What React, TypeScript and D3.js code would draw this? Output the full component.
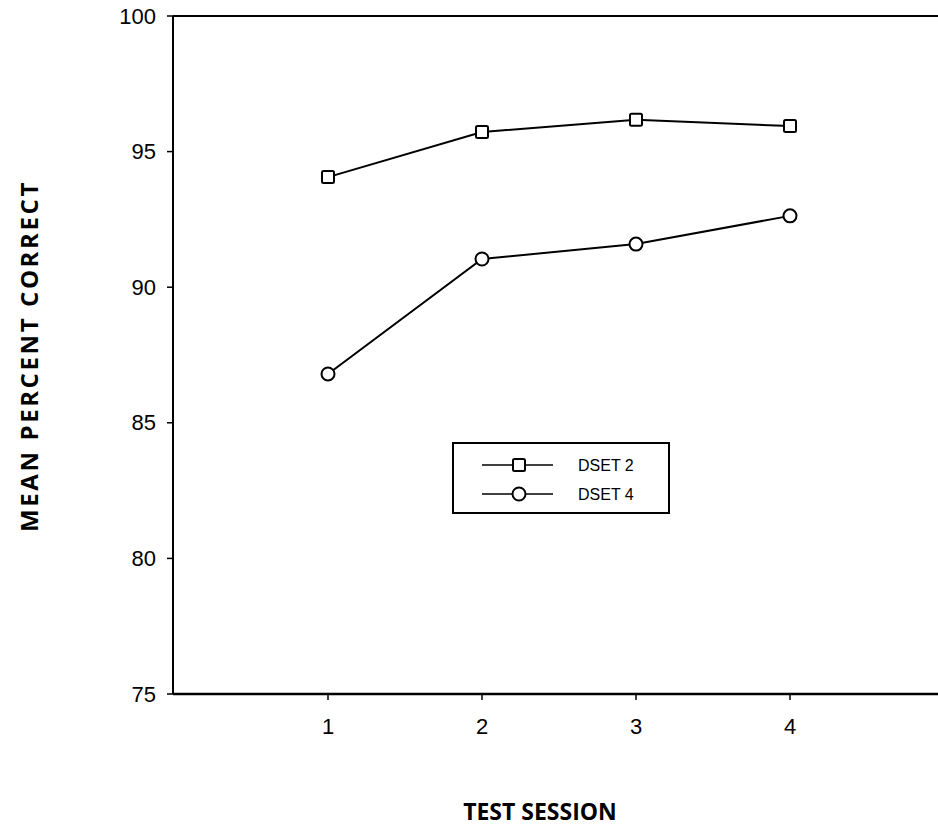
import React from "react";
import * as d3 from "d3";

const sessions = [1, 2, 3, 4];
const dset2 = [94.06, 95.72, 96.17, 95.94];
const dset4 = [86.8, 91.04, 91.59, 92.63];
const yTicks = [75, 80, 85, 90, 95, 100];
const xTicks = [1, 2, 3, 4];
const seriesNames = ["DSET 2", "DSET 4"];

const W = 938;
const H = 831;

export default function App() {
  const x = d3.scaleLinear().domain([0, 5]).range([174, 944]);
  const y = d3.scaleLinear().domain([75, 100]).range([694, 16]);
  const line = d3
    .line<number>()
    .x((_, i) => x(sessions[i]))
    .y((d) => y(d));
  const tickFont = "'Liberation Sans', Arial, sans-serif";
  const titleFont = "'Open Sans', 'DejaVu Sans', sans-serif";
  const sq = 12;
  const r = 6.5;
  return (
    <svg
      width={W}
      height={H}
      style={{ position: "absolute", left: 0, top: 0, background: "#fff" }}
    >
      {/* frame */}
      <line x1={x(0) - 1} x2={x(0) - 1} y1={y(100)} y2={y(75)} stroke="#000" strokeWidth={2} />
      <line x1={x(0) - 1} x2={W} y1={y(100)} y2={y(100)} stroke="#000" strokeWidth={2} />
      <line x1={x(0) - 1} x2={W} y1={y(75)} y2={y(75)} stroke="#000" strokeWidth={2.5} />
      {/* y ticks */}
      {yTicks.map((t) => (
        <g key={"y" + t}>
          <line x1={x(0) - 7} x2={x(0) - 1} y1={y(t)} y2={y(t)} stroke="#000" strokeWidth={1.5} />
          <text
            x={x(0) - 18}
            y={y(t)}
            textAnchor="end"
            dominantBaseline="central"
            fontFamily={tickFont}
            fontSize={22}
            fill="#000"
          >
            {t}
          </text>
        </g>
      ))}
      {/* x ticks */}
      {xTicks.map((t) => (
        <g key={"x" + t}>
          <line x1={x(t)} x2={x(t)} y1={y(75)} y2={y(75) + 6} stroke="#000" strokeWidth={1.5} />
          <text
            x={x(t)}
            y={y(75) + 32}
            textAnchor="middle"
            dominantBaseline="central"
            fontFamily={tickFont}
            fontSize={22}
            fill="#000"
          >
            {t}
          </text>
        </g>
      ))}
      {/* series */}
      <path d={line(dset2) || ""} fill="none" stroke="#000" strokeWidth={2} />
      <path d={line(dset4) || ""} fill="none" stroke="#000" strokeWidth={2} />
      {dset2.map((v, i) => (
        <rect
          key={"s" + i}
          x={x(sessions[i]) - sq / 2}
          y={y(v) - sq / 2}
          width={sq}
          height={sq}
          rx={1.5}
          fill="#fff"
          stroke="#000"
          strokeWidth={2}
        />
      ))}
      {dset4.map((v, i) => (
        <circle key={"c" + i} cx={x(sessions[i])} cy={y(v)} r={r} fill="#fff" stroke="#000" strokeWidth={2} />
      ))}
      {/* legend */}
      <g>
        <rect x={453} y={443} width={216} height={70} fill="#fff" stroke="#000" strokeWidth={2} />
        {seriesNames.map((name, i) => {
          const ly = 465 + i * 29;
          return (
            <g key={name}>
              <line x1={482} x2={553} y1={ly} y2={ly} stroke="#000" strokeWidth={1.5} />
              {i === 0 ? (
                <rect x={519 - sq / 2} y={ly - sq / 2} width={sq} height={sq} rx={1.5} fill="#fff" stroke="#000" strokeWidth={2} />
              ) : (
                <circle cx={519} cy={ly} r={r} fill="#fff" stroke="#000" strokeWidth={2} />
              )}
              <text x={578} y={ly} dominantBaseline="central" fontFamily={tickFont} fontSize={16} fill="#000">
                {name}
              </text>
            </g>
          );
        })}
      </g>
      {/* axis titles */}
      <text
        x={540}
        y={811}
        textAnchor="middle"
        dominantBaseline="central"
        fontFamily={titleFont}
        fontWeight="bold"
        fontSize={23}
        fill="#000"
      >
        TEST SESSION
      </text>
      <text
        transform={`translate(28,356) rotate(-90)`}
        textAnchor="middle"
        dominantBaseline="central"
        fontFamily={titleFont}
        fontWeight="bold"
        fontSize={24}
        letterSpacing={2.6}
        fill="#000"
      >
        MEAN PERCENT CORRECT
      </text>
    </svg>
  );
}
